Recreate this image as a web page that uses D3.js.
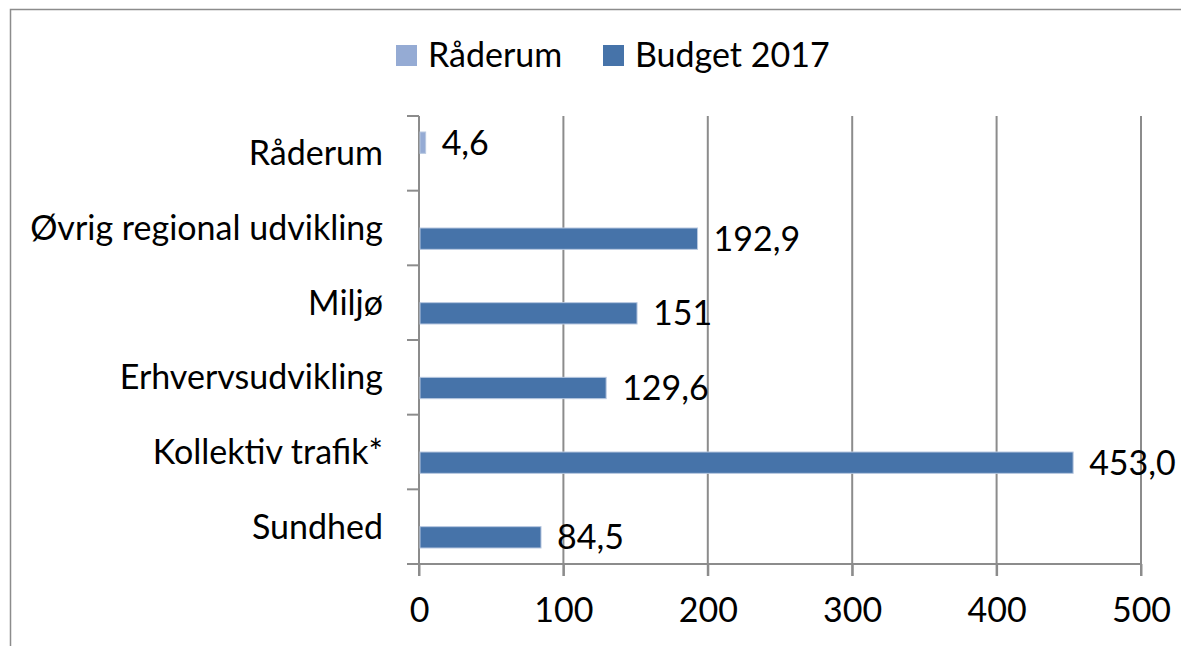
<!DOCTYPE html>
<html><head><meta charset="utf-8">
<script src="https://cdn.jsdelivr.net/npm/d3@7"></script>
<style>body{margin:0;background:#fff}svg{display:block}text{font-family:Lato,"Open Sans",sans-serif;fill:#000}</style>
</head><body>
<script>
const categories = ["Råderum","Øvrig regional udvikling","Miljø","Erhvervsudvikling","Kollektiv trafik*","Sundhed"];
const seriesNames = ["Råderum","Budget 2017"];
const raderumValues = [4.6, null, null, null, null, null];
const budgetValues = [null, 192.9, 151, 129.6, 453.0, 84.5];
const raderumLabels = ["4,6", "", "", "", "", ""];
const budgetLabels = ["", "192,9", "151", "129,6", "453,0", "84,5"];
const xTicks = [0,100,200,300,400,500];
const colors = ["#95ABD4","#4673A9"];

const W=1181,H=646;
const svg=d3.select("body").append("svg").attr("width",W).attr("height",H);
svg.append("rect").attr("x",10.5).attr("y",9.5).attr("width",W).attr("height",H).attr("fill","none").attr("stroke","#8c8c8c").attr("stroke-width",1.5);

const m={l:419,r:1141,t:116,b:564};
const x=d3.scaleLinear().domain([0,500]).range([m.l,m.r]);
const y=d3.scaleBand().domain(categories).range([m.t,m.b]);
const inner=d3.scaleBand().domain(seriesNames).range([0,y.bandwidth()]).paddingInner(0).paddingOuter(0.75);

const fs=34;
// gridlines
svg.append("g").selectAll("line").data(xTicks.slice(1)).join("line")
 .attr("x1",d=>x(d)).attr("x2",d=>x(d)).attr("y1",m.t).attr("y2",m.b+12)
 .attr("stroke","#8c8c8c").attr("stroke-width",2);
// x axis
const xa=svg.append("g").attr("transform",`translate(0,${m.b})`).call(d3.axisBottom(x).tickValues(xTicks).tickSize(12).tickPadding(22).tickFormat(d3.format("d")));
xa.select(".domain").remove();
xa.selectAll("line").attr("stroke","#8c8c8c").attr("stroke-width",2);
xa.selectAll("text").attr("font-size",fs).attr("font-family","Lato,sans-serif").attr("fill","#000");
svg.append("line").attr("x1",m.l).attr("x2",m.r).attr("y1",m.b).attr("y2",m.b).attr("stroke","#8c8c8c").attr("stroke-width",2);
// y axis
const yTickPos=d3.range(categories.length+1).map(i=>m.t+i*y.step());
svg.append("g").selectAll("line").data(yTickPos).join("line")
 .attr("x1",m.l-12).attr("x2",m.l).attr("y1",d=>d).attr("y2",d=>d).attr("stroke","#8c8c8c").attr("stroke-width",2);
svg.append("line").attr("x1",m.l).attr("x2",m.l).attr("y1",m.t).attr("y2",m.b+12).attr("stroke","#8c8c8c").attr("stroke-width",2);
svg.append("g").selectAll("text").data(categories).join("text")
 .attr("x",383).attr("y",d=>y(d)+y.bandwidth()/2).attr("dy","0.35em").attr("text-anchor","end").attr("font-size",fs).text(d=>d);

// bars
const series=[{name:seriesNames[0],vals:raderumValues,labels:raderumLabels,color:colors[0]},
              {name:seriesNames[1],vals:budgetValues,labels:budgetLabels,color:colors[1]}];
series.forEach(s=>{
  const data=categories.map((c,i)=>({c,v:s.vals[i],l:s.labels[i]})).filter(d=>d.v!=null);
  svg.append("g").selectAll("rect").data(data).join("rect")
   .attr("x",x(0)+1).attr("y",d=>y(d.c)+inner(s.name)).attr("width",d=>x(d.v)-x(0)-1).attr("height",inner.bandwidth())
   .attr("fill",s.color).attr("stroke","#b8c8e0").attr("stroke-width",1);
  svg.append("g").selectAll("text").data(data).join("text")
   .attr("x",d=>x(d.v)+16).attr("y",d=>y(d.c)+inner(s.name)+inner.bandwidth()/2).attr("dy","0.35em")
   .attr("font-size",fs).text(d=>d.l);
});

// legend
const lg=svg.append("g");
const legendX=[396,603];
seriesNames.forEach((n,i)=>{
  lg.append("rect").attr("x",legendX[i]).attr("y",45).attr("width",21).attr("height",21).attr("fill",colors[i]);
  lg.append("text").attr("x",legendX[i]+32).attr("y",55.5).attr("dy","0.35em").attr("font-size",fs).text(n);
});
</script>
</body></html>
